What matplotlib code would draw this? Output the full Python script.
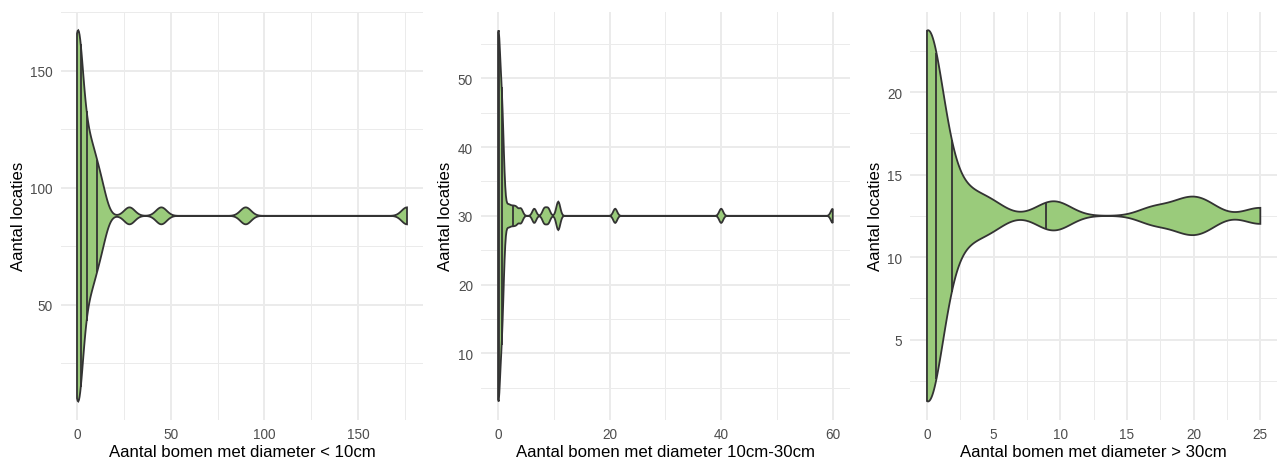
import matplotlib
matplotlib.use("Agg")
import matplotlib.pyplot as plt
from matplotlib.ticker import MultipleLocator
import numpy as np

plt.rcParams["font.family"] = ["Liberation Sans", "DejaVu Sans"]

# aantal bomen per locatie: waarde en hoe vaak die voorkomt
klein_waarden = [0, 1, 2, 3, 4, 5, 6, 7, 8, 9, 10, 12, 13, 14, 28, 45, 90, 176]
klein_aantal = [18, 1, 1, 1, 2, 1, 2, 1, 1, 2, 1, 1, 1, 1, 1, 1, 1, 1]

midden_waarden = [0, 0.7, 1.6, 2.1, 2.7, 3.3, 4.1, 6.5, 8.3, 9.0, 10.8, 21, 40, 60]
midden_aantal = [24, 14, 1, 1, 1, 1, 1, 1, 1, 1, 2, 1, 1, 1]

groot_waarden = [0, 1, 2, 3, 4, 5, 9, 10, 17, 19, 20, 21, 25]
groot_aantal = [22, 1, 2, 1, 1, 1, 1, 1, 1, 1, 1, 1, 1]

x_titels = [
    "Aantal bomen met diameter < 10cm",
    "Aantal bomen met diameter 10cm-30cm",
    "Aantal bomen met diameter > 30cm",
]
y_titel = "Aantal locaties"
x_stappen = [50, 20, 5]
y_stappen = [50, 10, 5]
kwantielen = [0.25, 0.5, 0.75]

FILL = "#9ACB7B"
EDGE = "#333333"
GRID = "#EBEBEB"
W, H = 1277, 464


def bw_nrd0(x):
    hi = np.std(x, ddof=1)
    q25, q75 = np.percentile(x, [25, 75])
    lo = min(hi, (q75 - q25) / 1.34)
    if lo == 0:
        lo = hi or abs(x[0]) or 1.0
    return 0.9 * lo * len(x) ** -0.2


def violin(ax, values):
    x = np.asarray(values, dtype=float)
    grid = np.linspace(x.min(), x.max(), 512)
    bw = bw_nrd0(x)
    dens = np.exp(-0.5 * ((grid[:, None] - x[None, :]) / bw) ** 2).sum(axis=1)
    scaled = dens / dens.max()
    # ggplot: violin sits at the middle of the y range, 0.9 of that range wide
    centre = (x.min() + x.max()) / 2
    half = 0.45 * (x.max() - x.min())
    ax.fill(
        np.r_[grid, grid[::-1]],
        np.r_[centre + half * scaled, (centre - half * scaled)[::-1]],
        facecolor=FILL, edgecolor=EDGE, linewidth=1.3, zorder=3,
    )
    cdf = np.cumsum(dens) / dens.sum()
    qx = np.interp(kwantielen, cdf, grid)
    qw = np.interp(qx, grid, scaled) * half
    ax.vlines(qx, centre - qw, centre + qw, colors=EDGE, linewidth=1.3, zorder=4)
    xr = x.max() - x.min()
    ax.set_xlim(x.min() - 0.05 * xr, x.max() + 0.05 * xr)
    yr = 2 * half
    ax.set_ylim(centre - half - 0.05 * yr, centre + half + 0.05 * yr)


fig = plt.figure(figsize=(W / 100, H / 100), dpi=100)
panels = [(60.5, 363.0), (481.3, 368.2), (910.3, 366.7)]
ylab_x = [18, 446, 875]
top, bottom = 12.7, 421.0

datasets = [
    np.repeat(klein_waarden, klein_aantal),
    np.repeat(midden_waarden, midden_aantal),
    np.repeat(groot_waarden, groot_aantal),
]

for i, (left, width) in enumerate(panels):
    ax = fig.add_axes([left / W, (H - bottom) / H, width / W, (bottom - top) / H])
    violin(ax, datasets[i])
    ax.xaxis.set_major_locator(MultipleLocator(x_stappen[i]))
    ax.xaxis.set_minor_locator(MultipleLocator(x_stappen[i] / 2))
    ax.yaxis.set_major_locator(MultipleLocator(y_stappen[i]))
    ax.yaxis.set_minor_locator(MultipleLocator(y_stappen[i] / 2))
    ax.set_axisbelow(True)
    ax.grid(which="major", color=GRID, linewidth=1.4)
    ax.grid(which="minor", color=GRID, linewidth=0.7)
    for s in ax.spines.values():
        s.set_visible(False)
    ax.tick_params(which="both", length=0, labelsize=9.8, labelcolor="#4D4D4D")
    ax.tick_params(axis="x", pad=5)
    ax.tick_params(axis="y", pad=6)
    ax.text(0.5, -(453 - bottom) / (bottom - top), x_titels[i], transform=ax.transAxes,
            ha="center", va="center", fontsize=12.1, color="black")
    ax.text((ylab_x[i] - left) / width, 0.5, y_titel, transform=ax.transAxes,
            rotation=90, ha="center", va="center", fontsize=12.1, color="black")

fig.savefig("out.png", dpi=100, facecolor="white")
